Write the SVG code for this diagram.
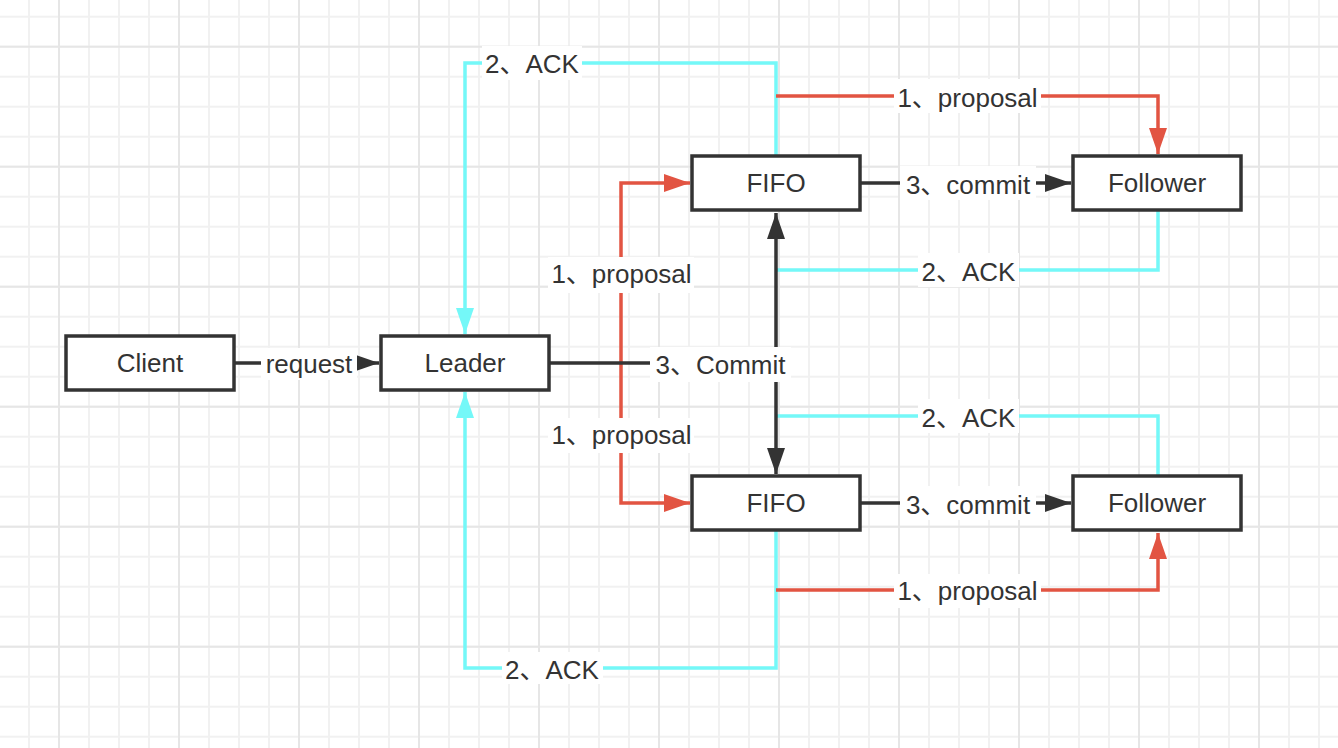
<svg xmlns="http://www.w3.org/2000/svg" width="1338" height="748" viewBox="0 0 1338 748">
<style>
text{font-family:"Liberation Sans","Noto Sans CJK SC",sans-serif;font-size:26px;fill:#333;text-anchor:middle}
.node rect{fill:#fff;stroke:#333;stroke-width:3.5}
.ln{fill:none;stroke-width:3.5;stroke-linejoin:miter}
.red{stroke:#e25442}
.cy{stroke:#74f8f8}
.bk{stroke:#333}
.bg{fill:#fff}
</style>
<defs>
<pattern id="minor" patternUnits="userSpaceOnUse" x="14" y="1.7" width="30" height="30">
<path d="M15 0V30M0 15H30" stroke="#f1f1f1" stroke-width="2" fill="none"/>
</pattern>
<pattern id="major" patternUnits="userSpaceOnUse" x="-1" y="-13.3" width="120" height="120">
<path d="M60 0V120M0 60H120" stroke="#e6e6e6" stroke-width="2" fill="none"/>
</pattern>
<marker id="aR" markerUnits="userSpaceOnUse" markerWidth="26" markerHeight="18" refX="26" refY="9" orient="auto"><path d="M0 0L26 9L0 18Z" fill="#e25442"/></marker>
<marker id="aC" markerUnits="userSpaceOnUse" markerWidth="26" markerHeight="18" refX="26" refY="9" orient="auto"><path d="M0 0L26 9L0 18Z" fill="#74f8f8"/></marker>
<marker id="aB" markerUnits="userSpaceOnUse" markerWidth="26" markerHeight="18" refX="26" refY="9" orient="auto"><path d="M0 0L26 9L0 18Z" fill="#333"/></marker>
</defs>
<rect width="1338" height="748" fill="#fff"/>
<rect width="1338" height="748" fill="url(#minor)"/>
<rect width="1338" height="748" fill="url(#major)"/>
<g id="connectors">
<path class="ln red" d="M621 363V183H690" marker-end="url(#aR)"/>
<path class="ln red" d="M621 363V503H690" marker-end="url(#aR)"/>
<path class="ln cy" d="M776 156V63H465V334" marker-end="url(#aC)"/>
<path class="ln cy" d="M776 531V668H465V392" marker-end="url(#aC)"/>
<path class="ln cy" d="M1158 210V270H776"/>
<path class="ln cy" d="M1158 476V416H776"/>
<path class="ln red" d="M776 96H1158V154" marker-end="url(#aR)"/>
<path class="ln red" d="M776 590H1158V533" marker-end="url(#aR)"/>
<path class="ln bk" d="M234 363H379" marker-end="url(#aB)"/>
<path class="ln bk" d="M549 363H776V213" marker-end="url(#aB)"/>
<path class="ln bk" d="M776 363V474" marker-end="url(#aB)"/>
<path class="ln bk" d="M860 183H1071" marker-end="url(#aB)"/>
<path class="ln bk" d="M860 503H1071" marker-end="url(#aB)"/>
<rect class="bg" x="482" y="46" width="100" height="34"/><text x="532" y="73">2、ACK</text>
<rect class="bg" x="894" y="79" width="147" height="34"/><text x="967.5" y="107">1、proposal</text>
<rect class="bg" x="900" y="166" width="136" height="34"/><text x="968" y="194">3、commit</text>
<rect class="bg" x="918" y="253" width="101" height="34"/><text x="968.5" y="281">2、ACK</text>
<rect class="bg" x="548" y="257" width="146" height="36"/><text x="621.5" y="283">1、proposal</text>
<rect class="bg" x="650" y="347" width="141" height="35"/><text x="720.5" y="374">3、Commit</text>
<rect class="bg" x="548" y="418" width="146" height="35"/><text x="621.5" y="444">1、proposal</text>
<rect class="bg" x="918" y="399" width="101" height="34"/><text x="968.5" y="427">2、ACK</text>
<rect class="bg" x="900" y="486" width="136" height="34"/><text x="968" y="514">3、commit</text>
<rect class="bg" x="894" y="574" width="147" height="34"/><text x="967.5" y="600">1、proposal</text>
<rect class="bg" x="502" y="652" width="101" height="32"/><text x="552" y="679">2、ACK</text>
<rect class="bg" x="261" y="348" width="96" height="32"/><text x="309" y="373">request</text>
</g>
<g id="client" class="node"><rect x="66" y="336" width="168" height="54"/><text x="150" y="372">Client</text></g>
<g id="leader" class="node"><rect x="381" y="336" width="168" height="54"/><text x="465" y="372">Leader</text></g>
<g id="fifo1" class="node"><rect x="692" y="156" width="168" height="54"/><text x="776" y="192">FIFO</text></g>
<g id="follower1" class="node"><rect x="1073" y="156" width="168" height="54"/><text x="1157" y="192">Follower</text></g>
<g id="fifo2" class="node"><rect x="692" y="476" width="168" height="54"/><text x="776" y="512">FIFO</text></g>
<g id="follower2" class="node"><rect x="1073" y="476" width="168" height="54"/><text x="1157" y="512">Follower</text></g>
</svg>
